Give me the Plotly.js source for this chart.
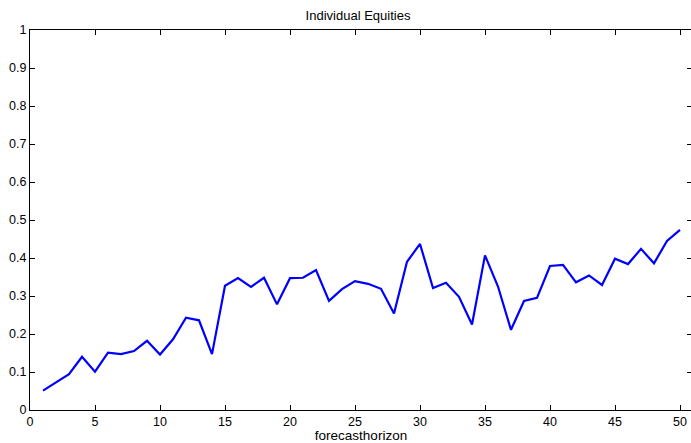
<!DOCTYPE html>
<html>
<head>
<meta charset="utf-8">
<script src="https://cdn.plot.ly/plotly-3.0.1.min.js"></script>
<style>
html, body { margin: 0; padding: 0; overflow: hidden; background: #fff; }
#chart { width: 692px; height: 443px; }
</style>
</head>
<body>
<div id="chart"></div>
<script>
const horizon = [1,2,3,4,5,6,7,8,9,10,11,12,13,14,15,16,17,18,19,20,21,22,23,24,25,26,27,28,29,30,31,32,33,34,35,36,37,38,39,40,41,42,43,44,45,46,47,48,49,50];
const values = [0.051,0.073,0.094,0.140,0.101,0.151,0.147,0.155,0.182,0.146,0.186,0.243,0.236,0.147,0.327,0.347,0.324,0.348,0.278,0.347,0.348,0.368,0.287,0.318,0.339,0.332,0.319,0.254,0.390,0.437,0.321,0.335,0.298,0.225,0.407,0.325,0.211,0.287,0.295,0.379,0.382,0.336,0.354,0.329,0.398,0.384,0.424,0.386,0.445,0.474];
const xTicks = [0,5,10,15,20,25,30,35,40,45,50];
const yTicks = [0,0.1,0.2,0.3,0.4,0.5,0.6,0.7,0.8,0.9,1];
const yTickText = ['0','0.1','0.2','0.3','0.4','0.5','0.6','0.7','0.8','0.9','1'];

const font = {family: 'Liberation Sans, Arial, sans-serif', size: 12.5, color: '#000'};

Plotly.newPlot('chart', [{
  x: horizon, y: values, type: 'scatter', mode: 'lines',
  line: {color: '#0000ff', width: 2.2}, hoverinfo: 'skip'
}], {
  width: 692, height: 443,
  margin: {l: 30, r: 0, t: 30, b: 33, pad: 0},
  paper_bgcolor: '#fff', plot_bgcolor: '#fff',
  showlegend: false,
  font: font,
  title: {text: 'Individual Equities', font: {family: font.family, size: 13, color: '#000'},
          x: 358/692, xanchor: 'center', y: 1 - 15/443, yanchor: 'middle', yref: 'container', xref: 'container'},
  xaxis: {
    range: [0, 662/13], tickvals: xTicks, ticktext: xTicks.map(String),
    ticks: 'inside', ticklen: 5, tickcolor: '#000', tickwidth: 1,
    showline: true, linecolor: '#000', linewidth: 1, mirror: 'ticks',
    showgrid: false, zeroline: false, fixedrange: true,
    tickfont: font,
    title: {text: 'forecasthorizon', font: {family: font.family, size: 13.5, color: '#000'}, standoff: 4}
  },
  yaxis: {
    range: [0, 1], tickvals: yTicks, ticktext: yTickText,
    ticks: 'inside', ticklen: 5, tickcolor: '#000', tickwidth: 1,
    showline: true, linecolor: '#000', linewidth: 1, mirror: 'ticks',
    showgrid: false, zeroline: false, fixedrange: true,
    tickfont: font
  }
}, {displayModeBar: false, staticPlot: true});
</script>
</body>
</html>
